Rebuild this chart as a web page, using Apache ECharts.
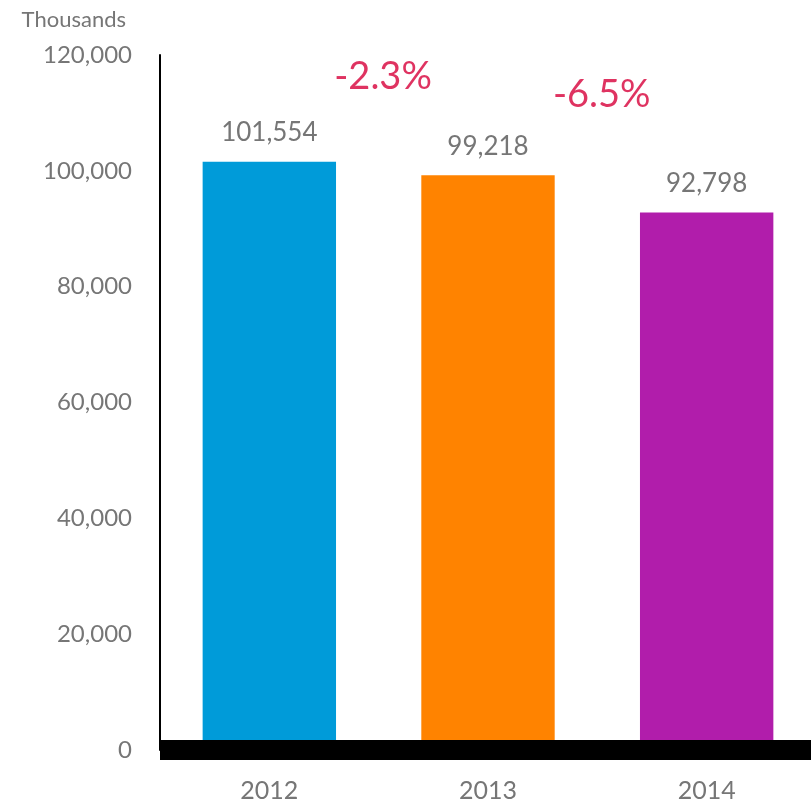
<!DOCTYPE html>
<html>
<head>
<meta charset="utf-8">
<script src="https://cdn.jsdelivr.net/npm/echarts@6/dist/echarts.min.js"></script>
<style>
html, body { margin: 0; padding: 0; background: #fff; }
#chart { width: 811px; height: 805px; }
</style>
</head>
<body>
<div id="chart"></div>
<script>
// 数据
const years = ['2012', '2013', '2014']
const values = [101554, 99218, 92798]
const barColors = ['#009BD9', '#FF8300', '#B11DAB']
const changes = ['-2.3%', '-6.5%']
// 变化率标签的位置（两个柱子之间）
const changePos = [[0.52, 116200], [1.52, 113100]]

const fontFamily = 'Lato, "Open Sans", sans-serif'
const gray = '#767676'

const chart = echarts.init(document.getElementById('chart'))
const option = {
    animation: false,
    grid: { left: 160, right: -5, top: 55, bottom: 55, outerBoundsMode: 'none' },
    xAxis: [
        {
            type: 'category',
            data: years,
            z: 5,
            axisLine: { lineStyle: { color: '#000', width: 20, cap: 'butt' } },
            axisTick: { show: false },
            axisLabel: { color: gray, fontSize: 25, fontFamily, margin: 28 }
        },
        {
            // 隐藏的数值轴，用来放变化率标签
            type: 'value',
            min: -0.5,
            max: 2.5,
            show: false
        }
    ],
    yAxis: {
        type: 'value',
        min: 0,
        max: 120000,
        interval: 20000,
        name: 'Thousands',
        nameLocation: 'end',
        nameGap: 24,
        nameTextStyle: { color: gray, fontSize: 22, fontFamily, align: 'right', padding: [0, 34, 0, 0] },
        axisLine: { show: true, onZero: false, lineStyle: { color: '#000', width: 2 } },
        axisTick: { show: false },
        splitLine: { show: false },
        axisLabel: {
            color: gray,
            fontSize: 24,
            fontFamily,
            margin: 28,
            formatter: v => v.toLocaleString('en-US')
        }
    },
    series: [
        {
            type: 'bar',
            barWidth: '61%',
            data: values.map((v, i) => ({ value: v, itemStyle: { color: barColors[i] } })),
            label: {
                show: true,
                position: 'top',
                distance: 16,
                color: gray,
                fontSize: 26,
                fontFamily,
                formatter: p => p.value.toLocaleString('en-US')
            }
        },
        {
            type: 'scatter',
            xAxisIndex: 1,
            symbolSize: 0,
            data: changePos.map((p, i) => ({ value: p, name: changes[i] })),
            label: {
                show: true,
                position: 'inside',
                color: '#D7003A',
                fontSize: 38,
                fontFamily,
                formatter: p => p.name
            }
        }
    ]
}
chart.setOption(option)
</script>
</body>
</html>
